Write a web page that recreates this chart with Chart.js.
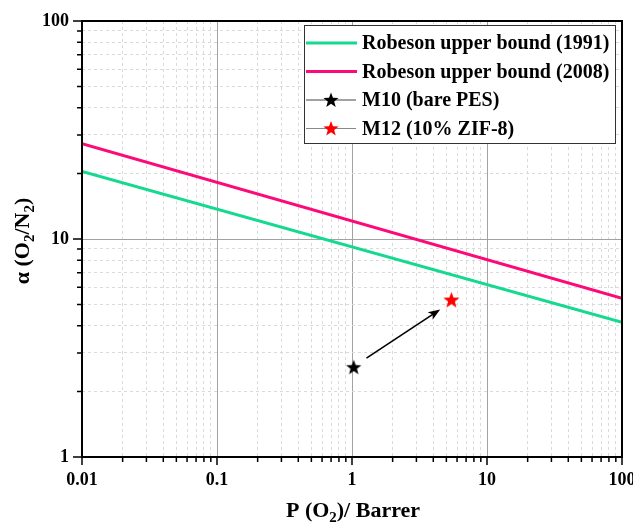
<!DOCTYPE html>
<html>
<head>
<meta charset="utf-8">
<script src="https://cdn.jsdelivr.net/npm/chart.js@4"></script>
<style>
  html, body { margin: 0; padding: 0; background: #fff; }
  #wrap { width: 633px; height: 524px; position: relative; }
</style>
</head>
<body>
<div id="wrap"><canvas id="c"></canvas></div>
<script>
// data
const seriesNames = ['Robeson upper bound (1991)', 'Robeson upper bound (2008)', 'M10 (bare PES)', 'M12 (10% ZIF-8)'];
const bound1991X = [0.01, 100];
const bound1991Y = [20.4, 4.15];
const bound2008X = [0.01, 100];
const bound2008Y = [27.4, 5.35];
const m10X = [1.03];
const m10Y = [2.58];
const m12X = [5.45];
const m12Y = [5.25];
const arrowX = [1.28, 4.5];
const arrowY = [2.84, 4.75];
const xDecades = [0.01, 0.1, 1, 10, 100];
const xTickLabels = ['0.01', '0.1', '1', '10', '100'];
const yDecades = [1, 10, 100];
const yTickLabels = ['1', '10', '100'];

const GREEN = '#14d98f';
const PINK = '#fc0a78';
const FONT = '"Liberation Serif", "Times New Roman", serif';

function starCanvas(color, r) {
  const s = Math.ceil(r * 2 + 2);
  const cv = document.createElement('canvas');
  cv.width = s; cv.height = s;
  const g = cv.getContext('2d');
  drawStar(g, s / 2, s / 2 + 0.5, r, color);
  return cv;
}
function drawStar(g, cx, cy, r, color) {
  const ri = r * 0.42;
  g.beginPath();
  for (let i = 0; i < 10; i++) {
    const a = -Math.PI / 2 + i * Math.PI / 5;
    const rr = i % 2 === 0 ? r : ri;
    const px = cx + rr * Math.cos(a), py = cy + rr * Math.sin(a);
    i === 0 ? g.moveTo(px, py) : g.lineTo(px, py);
  }
  g.closePath();
  g.fillStyle = color;
  g.fill();
}

function ticksFor(decades) {
  const out = [];
  decades.forEach((d, i) => {
    out.push({ value: d, major: true });
    if (i < decades.length - 1) for (let m = 2; m <= 9; m++) out.push({ value: d * m, major: false });
  });
  return out;
}

function pts(xs, ys) { return xs.map((x, i) => ({ x: x, y: ys[i] })); }

// rich text with subscripts
function richWidth(g, parts, size) {
  let w = 0;
  parts.forEach(p => {
    g.font = 'bold ' + (p.sub ? size * 0.68 : size) + 'px ' + FONT;
    w += g.measureText(p.t).width;
  });
  return w;
}
function drawRich(g, parts, x, y, size) {
  let cx = x - richWidth(g, parts, size) / 2;
  g.textBaseline = 'alphabetic';
  g.textAlign = 'left';
  parts.forEach(p => {
    g.font = 'bold ' + (p.sub ? size * 0.68 : size) + 'px ' + FONT;
    g.fillText(p.t, cx, p.sub ? y + size * 0.22 : y);
    cx += g.measureText(p.t).width;
  });
}

const decor = {
  id: 'decor',
  afterDatasetsDraw(chart) {
    const g = chart.ctx, xs = chart.scales.x, ys = chart.scales.y;
    // arrow M10 -> M12
    const x0 = xs.getPixelForValue(arrowX[0]), y0 = ys.getPixelForValue(arrowY[0]);
    const x1 = xs.getPixelForValue(arrowX[1]), y1 = ys.getPixelForValue(arrowY[1]);
    const ang = Math.atan2(y1 - y0, x1 - x0);
    g.save();
    g.strokeStyle = '#000'; g.fillStyle = '#000'; g.lineWidth = 1.6;
    g.beginPath();
    g.moveTo(x0, y0);
    g.lineTo(x1 - 8 * Math.cos(ang), y1 - 8 * Math.sin(ang));
    g.stroke();
    g.beginPath();
    g.moveTo(x1, y1);
    g.lineTo(x1 - 12 * Math.cos(ang) + 4.5 * Math.sin(ang), y1 - 12 * Math.sin(ang) - 4.5 * Math.cos(ang));
    g.lineTo(x1 - 9 * Math.cos(ang), y1 - 9 * Math.sin(ang));
    g.lineTo(x1 - 12 * Math.cos(ang) - 4.5 * Math.sin(ang), y1 - 12 * Math.sin(ang) + 4.5 * Math.cos(ang));
    g.closePath();
    g.fill();
    g.restore();
  },
  afterDraw(chart) {
    const g = chart.ctx, a = chart.chartArea, xs = chart.scales.x, ys = chart.scales.y;
    g.save();
    // frame
    g.strokeStyle = '#000'; g.lineWidth = 2;
    g.strokeRect(a.left, a.top, a.right - a.left, a.bottom - a.top);
    // outward tick marks
    g.lineWidth = 1.5;
    g.beginPath();
    xs.ticks.forEach(t => {
      const px = xs.getPixelForValue(t.value);
      g.moveTo(px, a.bottom); g.lineTo(px, a.bottom + (t.major ? 8 : 5));
    });
    ys.ticks.forEach(t => {
      const py = ys.getPixelForValue(t.value);
      g.moveTo(a.left, py); g.lineTo(a.left - (t.major ? 9 : 5), py);
    });
    g.stroke();

    // axis titles
    g.fillStyle = '#000';
    drawRich(g, [{ t: 'P (O' }, { t: '2', sub: true }, { t: ')/ Barrer' }], (a.left + a.right) / 2 + 1, 517, 22);
    g.save();
    g.translate(29, (a.top + a.bottom) / 2 + 2);
    g.rotate(-Math.PI / 2);
    drawRich(g, [{ t: 'α (O' }, { t: '2', sub: true }, { t: '/N' }, { t: '2', sub: true }, { t: ')' }], 0, 0, 22);
    g.restore();

    // legend
    const lx = 304, ly = 25, lw = 311, lh = 118;
    g.fillStyle = '#fff';
    g.fillRect(lx, ly, lw, lh);
    g.strokeStyle = '#333'; g.lineWidth = 1;
    g.strokeRect(lx + 0.5, ly + 0.5, lw, lh);
    const rowY = [43, 71.5, 100, 128.5];
    chart.data.datasets.forEach((ds, i) => {
      const y = rowY[i];
      if (ds.showLine !== false && ds.pointRadius === 0) {
        g.strokeStyle = ds.borderColor; g.lineWidth = 3;
        g.beginPath(); g.moveTo(lx + 2, y); g.lineTo(lx + 53, y); g.stroke();
      } else {
        g.strokeStyle = i === 2 ? '#444' : '#888'; g.lineWidth = 1;
        g.beginPath(); g.moveTo(lx + 2, y); g.lineTo(lx + 52, y); g.stroke();
        drawStar(g, lx + 27, y + 0.5, 8, ds.backgroundColor);
      }
      g.fillStyle = '#000';
      g.font = 'bold 20px ' + FONT;
      g.textAlign = 'left'; g.textBaseline = 'middle';
      g.fillText(ds.label, lx + 58, y + 1);
    });
    g.restore();
  }
};

const gridOpts = {
  color: c => (c.tick && c.tick.major ? '#a2a2a2' : '#dadada'),
  lineWidth: 1,
  drawTicks: false
};
const borderOpts = {
  display: false,
  dash: c => (c.tick && !c.tick.major ? [3, 3] : [])
};

new Chart(document.getElementById('c'), {
  type: 'scatter',
  data: {
    datasets: [
      { label: seriesNames[0], data: pts(bound1991X, bound1991Y), showLine: true, borderColor: GREEN, borderWidth: 3, pointRadius: 0 },
      { label: seriesNames[1], data: pts(bound2008X, bound2008Y), showLine: true, borderColor: PINK, borderWidth: 3, pointRadius: 0 },
      { label: seriesNames[2], data: pts(m10X, m10Y), showLine: false, backgroundColor: '#000', pointStyle: starCanvas('#000', 8) },
      { label: seriesNames[3], data: pts(m12X, m12Y), showLine: false, backgroundColor: '#ff0000', pointStyle: starCanvas('#ff0000', 8.5) }
    ]
  },
  options: {
    responsive: true,
    maintainAspectRatio: false,
    animation: false,
    layout: { padding: { top: 21, right: 11, left: 0, bottom: 0 } },
    plugins: { legend: { display: false }, tooltip: { enabled: false } },
    scales: {
      x: {
        type: 'logarithmic',
        min: xDecades[0], max: xDecades[xDecades.length - 1],
        afterBuildTicks: s => { s.ticks = ticksFor(xDecades); },
        afterFit: s => { s.height = 67; s.paddingLeft = 0; s.paddingRight = 0; },
        grid: gridOpts,
        border: borderOpts,
        ticks: {
          autoSkip: false, maxRotation: 0, padding: 13, color: '#000',
          font: { family: FONT, size: 18, weight: 'bold' },
          callback: v => { const k = xDecades.indexOf(v); return k >= 0 ? xTickLabels[k] : ''; }
        }
      },
      y: {
        type: 'logarithmic',
        min: yDecades[0], max: yDecades[yDecades.length - 1],
        afterBuildTicks: s => { s.ticks = ticksFor(yDecades); },
        afterFit: s => { s.width = 82; s.paddingTop = 0; s.paddingBottom = 0; },
        grid: gridOpts,
        border: borderOpts,
        ticks: {
          autoSkip: false, padding: 13, color: '#000',
          font: { family: FONT, size: 18, weight: 'bold' },
          callback: v => { const k = yDecades.indexOf(v); return k >= 0 ? yTickLabels[k] : ''; }
        }
      }
    }
  },
  plugins: [decor]
});
</script>
</body>
</html>
